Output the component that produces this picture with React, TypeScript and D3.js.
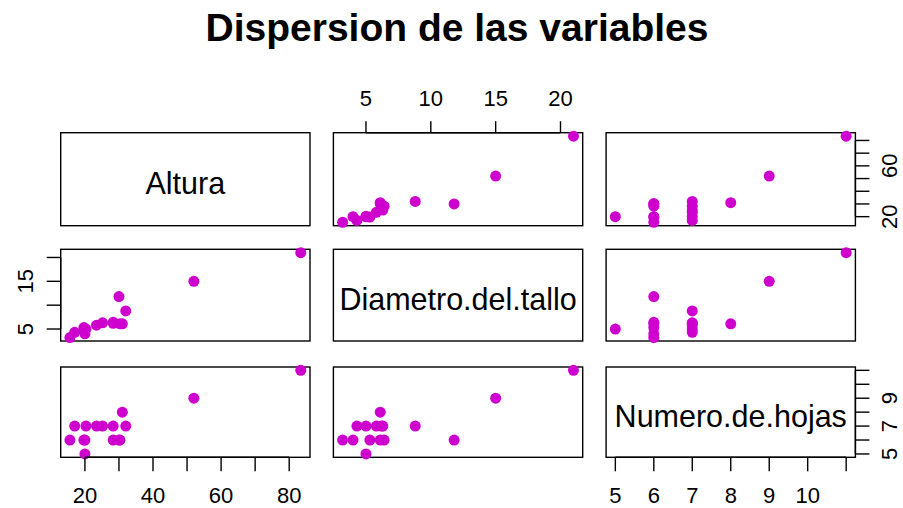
import React from "react";
import * as d3 from "d3";

// Data: one row per plant
const altura = [83.4, 52, 31, 32, 30, 15.6, 20, 17, 20, 20.3, 23.4, 25.2, 28.3, 28.3, 30.3, 19.7];
const diametro = [21, 15, 6.1, 8.8, 11.8, 3.2, 4.0, 4.3, 5.0, 5.0, 5.8, 6.3, 6.2, 6.4, 6.1, 5.3];
const hojas = [11, 9, 8, 7, 6, 6, 6, 7, 5, 7, 7, 7, 7, 6, 6, 6];

const varNames = ["Altura", "Diametro.del.tallo", "Numero.de.hojas"];
const alturaTicks = [20, 30, 40, 50, 60, 70, 80];
const alturaLabelsX = [20, 40, 60, 80];
const alturaLabelsY = [20, 60];
const diametroTicks = [5, 10, 15, 20];
const diametroLabelsX = [5, 10, 15, 20];
const diametroLabelsY = [5, 15];
const hojasTicks = [5, 6, 7, 8, 9, 10, 11];
const hojasLabelsX = [5, 6, 7, 8, 9, 10];
const hojasLabelsY = [5, 7, 9];

const title = "Dispersion de las variables";

const colLeft = [60.7, 333.4, 606.1];
const colW = 249.3;
const rowTop = [132.7, 249.3, 367];
const rowH = [93, 91.7, 90.3];

const COLOR = "#CD00CD";
const FONT = "'Liberation Sans', Arial, Helvetica, sans-serif";

function ext(vals: number[]) {
  const [a, b] = d3.extent(vals) as [number, number];
  const d = (b - a) * 0.04;
  return [a - d, b + d];
}

export default function App() {
  const vars = [altura, diametro, hojas];
  const xScales = vars.map((v, j) =>
    d3.scaleLinear().domain(ext(v)).range([colLeft[j], colLeft[j] + colW])
  );
  const yScales = vars.map((v, i) =>
    d3.scaleLinear().domain(ext(v)).range([rowTop[i] + rowH[i], rowTop[i]])
  );

  const panels: React.ReactNode[] = [];
  for (let i = 0; i < 3; i++) {
    for (let j = 0; j < 3; j++) {
      const x0 = colLeft[j];
      const y0 = rowTop[i];
      panels.push(
        <rect key={`r${i}${j}`} x={x0} y={y0} width={colW} height={rowH[i]}
          fill="none" stroke="#000" strokeWidth={1.4} />
      );
      if (i === j) {
        panels.push(
          <text key={`t${i}`} x={x0 + colW / 2} y={y0 + rowH[i] / 2 + 14.8}
            textAnchor="middle" fontSize={30.5} fontFamily={FONT}>{varNames[i]}</text>
        );
      } else {
        const xs = xScales[j];
        const ys = yScales[i];
        vars[j].forEach((xv, k) => {
          panels.push(
            <circle key={`p${i}${j}${k}`} cx={xs(xv)} cy={ys(vars[i][k])} r={5.5} fill={COLOR} />
          );
        });
      }
    }
  }

  const tickLen = 14;
  const fs = 22;
  const bottomAxis = (j: number, ticks: number[], labels: number[]) => {
    const xs = xScales[j];
    const yb = rowTop[2] + rowH[2];
    return (
      <g key={`ba${j}`}>
        <line x1={xs(ticks[0])} x2={xs(ticks[ticks.length - 1])} y1={yb} y2={yb} stroke="#000" strokeWidth={1.4} />
        {ticks.map((t) => (
          <line key={t} x1={xs(t)} x2={xs(t)} y1={yb} y2={yb + tickLen} stroke="#000" strokeWidth={1.4} />
        ))}
        {labels.map((t) => (
          <text key={`l${t}`} x={xs(t)} y={502.5} textAnchor="middle" fontSize={fs} fontFamily={FONT}>{t}</text>
        ))}
      </g>
    );
  };
  const topAxis = (j: number, ticks: number[], labels: number[]) => {
    const xs = xScales[j];
    const yt = rowTop[0];
    return (
      <g key={`ta${j}`}>
        <line x1={xs(ticks[0])} x2={xs(ticks[ticks.length - 1])} y1={yt} y2={yt} stroke="#000" strokeWidth={1.4} />
        {ticks.map((t) => (
          <line key={t} x1={xs(t)} x2={xs(t)} y1={yt} y2={yt - 11.5} stroke="#000" strokeWidth={1.4} />
        ))}
        {labels.map((t) => (
          <text key={`l${t}`} x={xs(t)} y={106} textAnchor="middle" fontSize={fs} fontFamily={FONT}>{t}</text>
        ))}
      </g>
    );
  };
  const sideAxis = (i: number, ticks: number[], labels: number[], side: "left" | "right") => {
    const ys = yScales[i];
    const xe = side === "left" ? colLeft[0] : colLeft[2] + colW;
    const dir = side === "left" ? -1 : 1;
    const lx = side === "left" ? 33 : 896.5;
    return (
      <g key={`sa${i}`}>
        <line x1={xe} x2={xe} y1={ys(ticks[0])} y2={ys(ticks[ticks.length - 1])} stroke="#000" strokeWidth={1.4} />
        {ticks.map((t) => (
          <line key={t} x1={xe} x2={xe + dir * tickLen} y1={ys(t)} y2={ys(t)} stroke="#000" strokeWidth={1.4} />
        ))}
        {labels.map((t) => (
          <text key={`l${t}`} transform={`translate(${lx},${ys(t)}) rotate(-90)`} x={0} y={0}
            textAnchor="middle" fontSize={fs} fontFamily={FONT}>{t}</text>
        ))}
      </g>
    );
  };

  return (
    <svg width={903} height={508} style={{ position: "fixed", left: 0, top: 0, background: "#fff" }}>
      <rect x={0} y={0} width={903} height={508} fill="#fff" />
      <text x={457} y={41} textAnchor="middle" fontSize={39} fontWeight="bold" fontFamily={FONT}>{title}</text>
      {panels}
      {bottomAxis(0, alturaTicks, alturaLabelsX)}
      {topAxis(1, diametroTicks, diametroLabelsX)}
      {bottomAxis(2, hojasTicks, hojasLabelsX)}
      {sideAxis(0, alturaTicks, alturaLabelsY, "right")}
      {sideAxis(1, diametroTicks, diametroLabelsY, "left")}
      {sideAxis(2, hojasTicks, hojasLabelsY, "right")}
    </svg>
  );
}
